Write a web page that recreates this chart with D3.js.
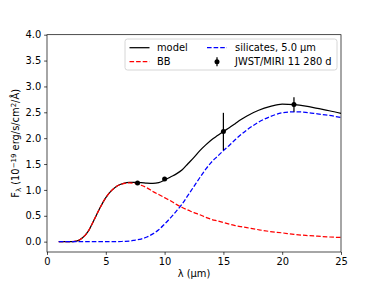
<!DOCTYPE html>
<html><head><meta charset="utf-8">
<script src="https://cdn.jsdelivr.net/npm/d3@7"></script>
<style>
html,body{margin:0;padding:0;background:#fff;}
svg{display:block;font-family:"DejaVu Sans",sans-serif;}
</style></head>
<body><svg id="c" width="379" height="284"></svg>
<script>
// wavelength grid (μm)
const lambda = [1,2,2.5,3,3.5,4,4.5,5,5.5,6,6.5,7,7.5,8,8.5,9,9.5,10,10.5,11,11.5,12,12.5,13,13.5,14,14.5,15,15.5,16,16.5,17,18,19,20,21,22,23,24,25];
// blackbody component
const bb = [0,0,0.01,0.07,0.2,0.42,0.65,0.85,0.99,1.08,1.12,1.135,1.125,1.09,1.04,0.97,0.91,0.85,0.79,0.72,0.66,0.61,0.56,0.52,0.47,0.43,0.40,0.37,0.34,0.31,0.29,0.27,0.23,0.195,0.17,0.14,0.12,0.105,0.09,0.08];
// silicate dust component
const silicates = [0,0,0,0,0,0,0,0,0,0,0.005,0.01,0.03,0.05,0.09,0.15,0.23,0.34,0.46,0.59,0.73,0.90,1.07,1.24,1.40,1.54,1.65,1.76,1.86,1.97,2.07,2.16,2.31,2.42,2.49,2.51,2.50,2.47,2.44,2.40];
// total model
const model = [0,0,0.01,0.07,0.2,0.42,0.65,0.85,0.99,1.08,1.125,1.145,1.145,1.14,1.13,1.125,1.14,1.19,1.25,1.31,1.39,1.51,1.63,1.76,1.87,1.97,2.05,2.13,2.20,2.28,2.36,2.43,2.54,2.615,2.66,2.65,2.62,2.575,2.53,2.48];
// JWST/MIRI observations
const obsLambda = [7.7,10.0,15.0,21.0];
const obsFlux = [1.135,1.21,2.13,2.65];
const obsErr = [0,0,0.36,0.14];

const xTicks = [0,5,10,15,20,25];
const yTicks = [0,0.5,1,1.5,2,2.5,3,3.5,4];

const svg = d3.select("#c");
const L = 47, R = 341, T = 34.7, B = 252;
const x = d3.scaleLinear().domain([0,25]).range([L,R]);
const y = d3.scaleLinear().domain([-0.2,4.0]).range([B,T]);
const FS = 9.9;

// series
const line = (vals) => d3.line().x((d,i)=>x(lambda[i])).y(d=>y(d)).curve(d3.curveMonotoneX)(vals);
const dash = "4.6,2";
svg.append("path").attr("d", line(model)).attr("fill","none").attr("stroke","#000").attr("stroke-width",1.25);
svg.append("path").attr("d", line(bb)).attr("fill","none").attr("stroke","#ff0000").attr("stroke-width",1.25).attr("stroke-dasharray",dash);
svg.append("path").attr("d", line(silicates)).attr("fill","none").attr("stroke","#0000ff").attr("stroke-width",1.25).attr("stroke-dasharray",dash);

// observations
const g = svg.append("g");
obsLambda.forEach((l,i)=>{
  if (obsErr[i] > 0) {
    g.append("line").attr("x1",x(l)).attr("x2",x(l)).attr("y1",y(obsFlux[i]-obsErr[i])).attr("y2",y(obsFlux[i]+obsErr[i]))
      .attr("stroke","#000").attr("stroke-width",1.25);
  }
  g.append("circle").attr("cx",x(l)).attr("cy",y(obsFlux[i])).attr("r",2.5).attr("fill","#000");
});

// axes
const xa = svg.append("g").attr("transform",`translate(0,${B})`)
  .call(d3.axisBottom(x).tickValues(xTicks).tickFormat(d3.format("d")).tickSize(2.9).tickPadding(2.9));
const ya = svg.append("g").attr("transform",`translate(${L},0)`)
  .call(d3.axisLeft(y).tickValues(yTicks).tickFormat(d3.format(".1f")).tickSize(2.9).tickPadding(2.9));
[xa,ya].forEach(a=>{
  a.select(".domain").remove();
  a.selectAll(".tick line").attr("stroke","#000").attr("stroke-width",0.7);
  a.selectAll(".tick text").attr("font-size",FS).attr("font-family","DejaVu Sans").attr("fill","#000");
});
// frame
svg.append("rect").attr("x",L).attr("y",T).attr("width",R-L).attr("height",B-T)
  .attr("fill","none").attr("stroke","#000").attr("stroke-width",0.7);

// axis labels
svg.append("text").attr("x",(L+R)/2).attr("y",277).attr("text-anchor","middle").attr("font-size",FS).text("λ (μm)");
const yl = svg.append("text").attr("transform",`translate(19,${(T+B)/2}) rotate(-90)`).attr("text-anchor","middle").attr("font-size",FS);
yl.append("tspan").text("F");
yl.append("tspan").attr("font-size",7).attr("dy",2).text("λ");
yl.append("tspan").attr("dy",-2).text(" (10");
yl.append("tspan").attr("font-size",7).attr("dy",-3.5).text("−19");
yl.append("tspan").attr("dy",3.5).text(" erg/s/cm");
yl.append("tspan").attr("font-size",7).attr("dy",-3.5).text("2");
yl.append("tspan").attr("dy",3.5).text("/Å)");

// legend
const lg = svg.append("g");
lg.append("rect").attr("x",125).attr("y",39).attr("width",212).attr("height",31).attr("rx",2.5)
  .attr("fill","#fff").attr("fill-opacity",0.8).attr("stroke","#cccccc").attr("stroke-width",0.8);
const r1 = 47.7, r2 = 61.7;
lg.append("line").attr("x1",129.5).attr("x2",149.5).attr("y1",r1).attr("y2",r1).attr("stroke","#000").attr("stroke-width",1.25);
lg.append("line").attr("x1",129.5).attr("x2",149.5).attr("y1",r2).attr("y2",r2).attr("stroke","#ff0000").attr("stroke-width",1.25).attr("stroke-dasharray",dash);
lg.append("line").attr("x1",207).attr("x2",227).attr("y1",r1).attr("y2",r1).attr("stroke","#0000ff").attr("stroke-width",1.25).attr("stroke-dasharray",dash);
lg.append("line").attr("x1",217).attr("x2",217).attr("y1",r2-4.5).attr("y2",r2+4.5).attr("stroke","#000").attr("stroke-width",1.25);
lg.append("circle").attr("cx",217).attr("cy",r2).attr("r",2.5).attr("fill","#000");
const lt = (tx,ty,s)=>lg.append("text").attr("x",tx).attr("y",ty+3.5).attr("font-size",FS).text(s);
lt(157,r1,"model");
lt(157,r2,"BB");
lt(235,r1,"silicates, 5.0 μm");
lt(235,r2,"JWST/MIRI 11 280 d");
</script></body></html>
